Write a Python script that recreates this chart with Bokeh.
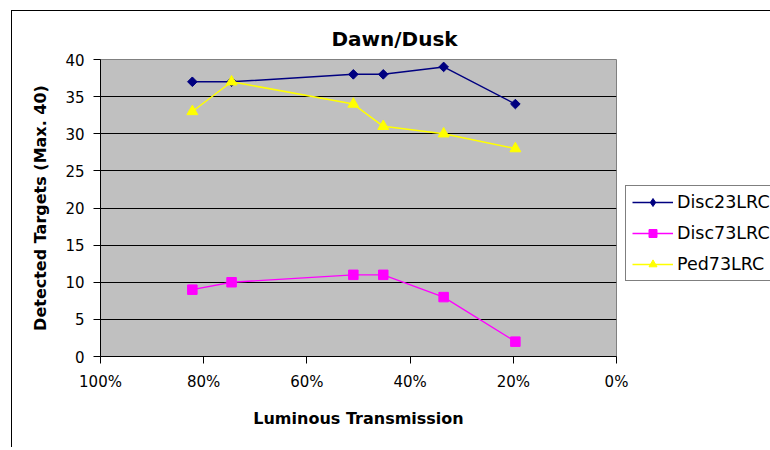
from bokeh.plotting import figure
from bokeh.models import Range1d, FixedTicker, NumeralTickFormatter, Legend, LegendItem
from bokeh.embed import file_html
from bokeh.resources import INLINE
import math

# ---- data ----
transmission = [0.822, 0.746, 0.510, 0.452, 0.335, 0.196]
disc23 = [37, 37, 38, 38, 39, 34]
disc73 = [9, 10, 11, 11, 8, 2]
ped73 = [33, 37, 34, 31, 30, 28]
x_ticks = [0.0, 0.2, 0.4, 0.6, 0.8, 1.0]
y_ticks = [0, 5, 10, 15, 20, 25, 30, 35, 40]

FONT = "DejaVu Sans"

p = figure(
    output_backend="svg", toolbar_location=None,
    frame_width=516, frame_height=297,
    min_border_left=88, min_border_right=150,
    min_border_top=48, min_border_bottom=91,
    x_range=Range1d(1.0, 0.0), y_range=Range1d(0, 40),
    margin=(10, 0, 0, 11),
)
p.styles = {"border-left": "1px solid black", "border-top": "1px solid black"}

p.background_fill_color = "#C0C0C0"
p.border_fill_color = "white"
p.outline_line_color = "#808080"
p.outline_line_width = 1

# title
p.title.text = "Dawn/Dusk"
p.title.text_font = FONT
p.title.text_font_size = "20px"
p.title.text_font_style = "bold"
p.title.text_color = "black"
p.title.align = "left"
p.title.offset = 231
p.title.standoff = 18

# grid
p.xgrid.visible = False
p.ygrid.ticker = FixedTicker(ticks=[5, 10, 15, 20, 25, 30, 35])
p.ygrid.grid_line_color = "black"
p.ygrid.grid_line_width = 1

# axes
for ax in (p.xaxis[0], p.yaxis[0]):
    ax.axis_line_color = "black"
    ax.major_tick_line_color = "black"
    ax.major_tick_in = 0
    ax.major_tick_out = 7
    ax.minor_tick_line_color = None
    ax.major_label_text_font = FONT
    ax.major_label_text_font_size = "15px"
    ax.major_label_text_color = "black"
    ax.axis_label_text_font = FONT
    ax.axis_label_text_font_size = "16px"
    ax.axis_label_text_font_style = "bold"
    ax.axis_label_text_color = "black"

p.xaxis.ticker = FixedTicker(ticks=x_ticks)
p.xaxis.formatter = NumeralTickFormatter(format="0%")
p.xaxis.major_label_standoff = 9
p.xaxis.axis_label = "Luminous Transmission"
p.xaxis.axis_label_standoff = 15

p.yaxis.ticker = FixedTicker(ticks=y_ticks)
p.yaxis.major_label_standoff = 9
p.yaxis.axis_label = "Detected Targets (Max. 40)"
p.yaxis.axis_label_standoff = 12

# series
l1 = p.line(transmission, disc23, line_color="#000080", line_width=1.5)
# diamond used for the legend swatch; hidden beneath the rotated squares in the plot
d1 = p.scatter(transmission, disc23, marker="diamond", size=8,
               fill_color="#000080", line_color="#000080")
s1 = p.scatter(transmission, disc23, marker="square", angle=math.pi / 4, size=6.8,
               fill_color="#000080", line_color="#000080")
l2 = p.line(transmission, disc73, line_color="#FF00FF", line_width=1.3)
s2 = p.scatter(transmission, disc73, marker="square", size=9.5,
               fill_color="#FF00FF", line_color="#FF00FF")
l3 = p.line(transmission, ped73, line_color="#FFFF00", line_width=1.5)
s3 = p.scatter(transmission, ped73, marker="triangle", size=11,
               fill_color="#FFFF00", line_color="#FFFF00")

legend = Legend(
    items=[
        LegendItem(label="Disc23LRC", renderers=[l1, d1]),
        LegendItem(label="Disc73LRC", renderers=[l2, s2]),
        LegendItem(label="Ped73LRC", renderers=[l3, s3]),
    ],
    location=(9, 75),
    orientation="vertical",
    label_text_font=FONT,
    label_text_font_size="17.5px",
    label_text_color="black",
    glyph_width=41, glyph_height=20, label_height=20,
    label_standoff=4, spacing=11, padding=6, margin=0,
    border_line_color="black", border_line_width=1,
    background_fill_color="white", background_fill_alpha=1.0,
)
p.add_layout(legend, "right")

open("out.html", "w").write(file_html(p, INLINE))
